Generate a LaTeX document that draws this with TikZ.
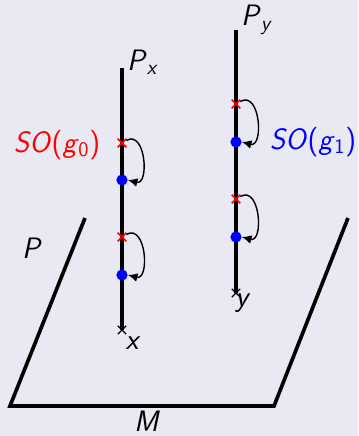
\documentclass[tikz,border=0pt]{standalone}
\usetikzlibrary{arrows.meta,positioning,shapes.misc}
\definecolor{slideBg}{RGB}{233,233,243}
\newcommand\symb[2]{\textit{#1}\textsubscript{#2}}

\tikzset{
  fibre/.style={line width=2.6pt},
  plane/.style={line width=2.6pt,line join=miter},
  redmark/.style={cross out,draw=red,line width=1.2pt,minimum size=5pt,inner sep=0pt},
  basemark/.style={cross out,draw=black,line width=1pt,minimum size=5pt,inner sep=0pt},
  bluedot/.style={circle,fill=blue,minimum size=8pt,inner sep=0pt},
  turn/.style={-{Latex[length=2.4mm,width=2.2mm]},line width=1pt,out=30,in=-15,looseness=1.45}
}

\begin{document}
\begin{tikzpicture}[>=Latex,x=0.025cm,y=0.025cm,font=\sffamily\fontsize{21}{24}\selectfont]
  \useasboundingbox[fill=slideBg] (0,0) rectangle (358,436);
  % the base M
  \coordinate (m1) at (85,218);
  \coordinate (m2) at (10,30);
  \coordinate (m3) at (274,30);
  \coordinate (m4) at (348,218);
  \draw[plane] (m1) -- (m2) -- (m3) -- (m4);
  \node[inner sep=0pt] (M) at (147,15) {\textit{M}};
  \node (P) at (32,188) {\textit{P}};
  % fibre over x
  \coordinate (pxtop) at (122,368);
  \node[basemark] (x) at (122,106) {};
  \draw[fibre] (pxtop) -- (x.center);
  \node (Px) at (142,374) {\symb{P}{\itshape x}};
  \node (xlab) at (133,93) {\textit{x}};
  % fibre over y
  \coordinate (pytop) at (236,406);
  \node[basemark] (y) at (236,143) {};
  \draw[fibre] (pytop) -- (y.center);
  \node (Py) at (256,416) {\symb{P}{\itshape y}};
  \node (ylab) at (243,133) {\textit{y}};
  % group actions
  \foreach \i/\yc/\yd in {1/293/256,2/199/161}{
    \node[redmark] (lc\i) at (122,\yc) {};
    \node[bluedot] (ld\i) at (122,\yd) {};
    \draw[turn] (lc\i) to (ld\i.east);
  }
  \foreach \i/\yc/\yd in {1/332/294,2/237/199}{
    \node[redmark] (rc\i) at (236,\yc) {};
    \node[bluedot] (rd\i) at (236,\yd) {};
    \draw[turn] (rc\i) to (rd\i.east);
  }
  \node[red] (so0) at (57,291) {\textit{SO}(\symb{g}{\upshape 0})};
  \node[blue] (so1) at (313,294) {\textit{SO}(\symb{g}{\upshape 1})};
\end{tikzpicture}
\end{document}
